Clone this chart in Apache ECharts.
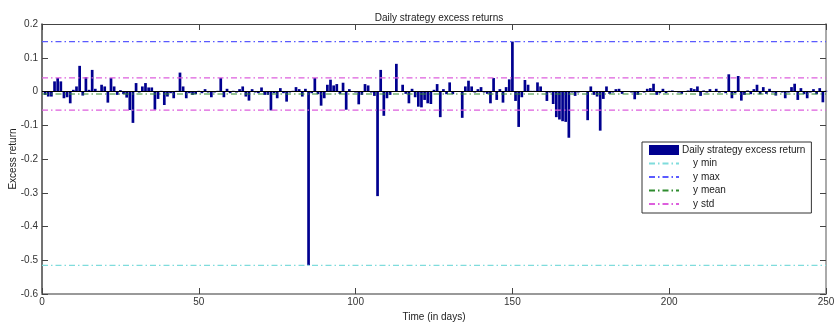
<!DOCTYPE html>
<html>
<head>
<meta charset="utf-8">
<script src="https://cdn.jsdelivr.net/npm/echarts@6/dist/echarts.min.js"></script>
<style>
html,body{margin:0;padding:0;background:#fff;}
#chart{width:834px;height:326px;}
</style>
</head>
<body>
<div id="chart"></div>
<script>
// Daily strategy excess returns, day 1..250
var returns = [
  -0.010,-0.015,-0.015, 0.030, 0.040, 0.030,-0.020,-0.017,-0.035, 0.005,
   0.015, 0.076,-0.012, 0.043, 0.005, 0.064, 0.008, 0.002, 0.020, 0.015,
  -0.033, 0.040, 0.015,-0.010, 0.004,-0.008,-0.018,-0.055,-0.093, 0.025,
  -0.003, 0.015, 0.025, 0.012, 0.012,-0.054,-0.022, 0.002,-0.040,-0.015,
  -0.005,-0.020, 0.002, 0.056, 0.015,-0.020,-0.005,-0.010,-0.008, 0.002,
  -0.005, 0.007,-0.003,-0.017,-0.003, 0.002, 0.040,-0.017, 0.008,-0.005,
   0.002,-0.003, 0.007, 0.015,-0.015,-0.027, 0.007,-0.003,-0.005, 0.012,
  -0.010,-0.010,-0.056,-0.005,-0.020, 0.010,-0.005,-0.030,-0.003, 0.002,
   0.013, 0.007,-0.015, 0.008,-0.515,-0.005, 0.040,-0.008,-0.042,-0.020,
   0.020, 0.035, 0.018, 0.022,-0.007, 0.026,-0.054, 0.007, 0.001,-0.003,
  -0.038,-0.010, 0.022, 0.018,-0.003,-0.013,-0.310, 0.064,-0.072,-0.020,
  -0.010, 0.001, 0.082, 0.001, 0.020,-0.007,-0.035, 0.008,-0.017,-0.045,
  -0.047,-0.025,-0.035,-0.037, 0.005, 0.022,-0.076, 0.007,-0.008, 0.027,
  -0.008, 0.001, 0.001,-0.078, 0.015, 0.032, 0.015,-0.003, 0.007, 0.013,
  -0.003,-0.007,-0.035, 0.040,-0.025, 0.007,-0.033, 0.013, 0.036, 0.148,
  -0.028,-0.105,-0.017, 0.034, 0.020, 0.002, 0.002, 0.027, 0.015, 0.001,
  -0.028,-0.003,-0.037,-0.076,-0.083,-0.088,-0.090,-0.137,-0.003,-0.013,
  -0.003, 0.001, 0.001,-0.085, 0.015,-0.010,-0.015,-0.116,-0.022, 0.015,
  -0.007,-0.003, 0.007, 0.008,-0.007, 0.001, 0.001,-0.003,-0.023,-0.010,
   0.001,-0.003, 0.008, 0.010, 0.023,-0.010,-0.005, 0.008,-0.005, 0.002,
   0.003, 0.001,-0.003,-0.007, 0.001, 0.003, 0.010, 0.007, 0.015,-0.013,
   0.003,-0.003, 0.007, 0.001, 0.008,-0.003, 0.001,-0.005, 0.051,-0.020,
  -0.005, 0.046,-0.027,-0.010, 0.003,-0.008, 0.007, 0.020,-0.008, 0.013,
  -0.007, 0.008,-0.003,-0.012, 0.001,-0.003,-0.020,-0.003, 0.013, 0.023,
  -0.025, 0.010,-0.008,-0.020,-0.003, 0.007,-0.008, 0.010,-0.032, 0.002
];
var barName = 'Daily strategy excess return';
var statNames  = ['y min', 'y max', 'y mean', 'y std', 'y std'];
var statValues = [-0.515, 0.148, -0.0074, 0.0406, -0.0554];
var statColors = ['#7fdcdc', '#5a5aff', '#2e8b2e', '#dd5fdd', '#dd5fdd'];
var xTicks = { min: 0, max: 250, interval: 50 };
var yTicks = { min: -0.6, max: 0.2, interval: 0.1 };

var barData = returns.map(function (v, i) { return [i + 1, v]; });
var font = "'Liberation Sans', Arial, sans-serif";

var series = [{
  name: barName,
  type: 'bar',
  data: barData,
  barWidth: 2.7,
  itemStyle: { color: '#00008f' },
  z: 2,
  markLine: {
    silent: true, symbol: 'none', animation: false,
    label: { show: false },
    lineStyle: { color: '#000', type: 'solid', width: 1 },
    data: [{ yAxis: 0 }]
  }
}];
statNames.forEach(function (n, i) {
  series.push({
    name: n,
    type: 'line',
    data: [[xTicks.min, statValues[i]], [xTicks.max, statValues[i]]],
    symbol: 'none',
    showSymbol: false,
    z: 5,
    lineStyle: { color: statColors[i], width: 1.2, type: [6, 3, 1.5, 3] },
    itemStyle: { color: statColors[i] }
  });
});

function axisCommon(extra) {
  var base = {
    type: 'value',
    splitLine: { show: false },
    axisTick: { show: true, inside: true, length: 6, lineStyle: { color: '#444' } },
    axisLabel: { color: '#333', fontSize: 10, fontFamily: font },
    nameTextStyle: { color: '#222', fontSize: 10, fontFamily: font }
  };
  for (var k in extra) base[k] = extra[k];
  return base;
}

var hiddenSymbol = { opacity: 0 };
var chart = echarts.init(document.getElementById('chart'), null, { renderer: 'canvas' });
chart.setOption({
  animation: false,
  backgroundColor: '#fff',
  textStyle: { fontFamily: font },
  title: {
    text: 'Daily strategy excess returns',
    left: 434, top: 8, textAlign: 'center',
    textStyle: { fontSize: 10, fontWeight: 'normal', color: '#222', fontFamily: font }
  },
  grid: { left: 42, right: 8, top: 24, bottom: 32, containLabel: false, outerBoundsMode: 'none' },
  legend: {
    orient: 'vertical',
    left: 642, top: 142,
    padding: [3, 6, 4, 6],
    itemGap: 3.5,
    itemWidth: 30, itemHeight: 10,
    backgroundColor: '#fff',
    borderColor: '#333', borderWidth: 1, borderRadius: 0,
    textStyle: { fontSize: 10, color: '#222', fontFamily: font, padding: [0, 0, 0, -2] },
    data: [
      { name: barName, icon: 'rect' },
      { name: 'y min', itemStyle: hiddenSymbol },
      { name: 'y max', itemStyle: hiddenSymbol },
      { name: 'y mean', itemStyle: hiddenSymbol },
      { name: 'y std', itemStyle: hiddenSymbol }
    ],
    formatter: function (n) { return n === barName ? n : '    ' + n; }
  },
  xAxis: [
    axisCommon({
      position: 'bottom', min: xTicks.min, max: xTicks.max, interval: xTicks.interval,
      name: 'Time (in days)', nameLocation: 'middle', nameGap: 17,
      axisLine: { show: true, onZero: false, lineStyle: { color: '#999', width: 2 } },
      axisLabel: { color: '#333', fontSize: 10, fontFamily: font, margin: 3 }
    }),
    axisCommon({
      position: 'top', min: xTicks.min, max: xTicks.max, interval: xTicks.interval,
      axisLine: { show: true, onZero: false, lineStyle: { color: '#444', width: 1 } },
      axisLabel: { show: false }
    })
  ],
  yAxis: [
    axisCommon({
      position: 'left', min: yTicks.min, max: yTicks.max, interval: yTicks.interval,
      name: 'Excess return', nameLocation: 'middle', nameGap: 24, nameMoveOverlap: false,
      axisLine: { show: true, onZero: false, lineStyle: { color: '#444', width: 1.5 } },
      axisLabel: { color: '#333', fontSize: 10, fontFamily: font, margin: 4 }
    }),
    axisCommon({
      position: 'right', min: yTicks.min, max: yTicks.max, interval: yTicks.interval,
      axisLine: { show: true, onZero: false, lineStyle: { color: '#aaa', width: 2 } },
      axisLabel: { show: false }
    })
  ],
  series: series
});
</script>
</body>
</html>
